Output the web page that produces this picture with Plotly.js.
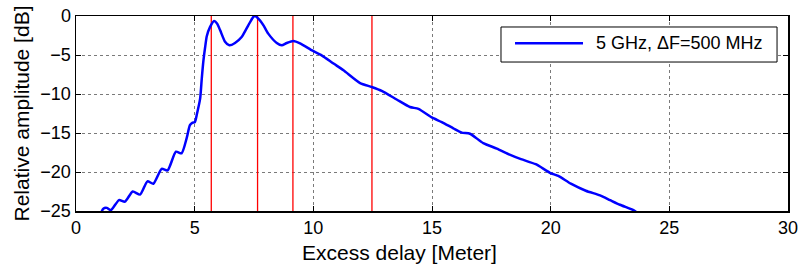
<!DOCTYPE html>
<html>
<head>
<meta charset="utf-8">
<script src="https://cdn.plot.ly/plotly-3.0.1.min.js"></script>
<style>html,body{margin:0;padding:0;background:#fff;}#plot{width:798px;height:269px;}</style>
</head>
<body>
<div id="plot"></div>
<script>
// Excess delay [m]
const delay = [1.05,1.15,1.30,1.47,1.81,2.06,2.39,2.70,3.01,3.26,3.61,3.86,4.21,4.45,4.66,4.80,4.90,5.01,5.10,5.23,5.30,5.37,5.45,5.51,5.65,5.82,5.95,6.07,6.28,6.46,6.70,6.98,7.26,7.45,7.54,7.75,7.90,8.10,8.46,8.67,8.88,9.16,9.44,9.97,10.35,10.85,11.27,11.97,12.46,12.88,13.51,14.07,14.43,14.99,15.41,15.90,16.25,16.60,17.16,17.73,18.22,18.75,19.37,19.97,20.32,20.85,21.48,22.08,22.50,22.92,23.42,23.60];
// Relative amplitude [dB]
const amplitude = [-25.3,-24.7,-24.6,-24.9,-23.6,-23.8,-22.5,-22.9,-21.2,-21.5,-19.6,-19.8,-17.4,-17.6,-15.7,-14.0,-13.7,-13.6,-12.5,-10.6,-8.0,-5.7,-3.8,-2.6,-1.4,-0.64,-1.0,-1.8,-3.3,-3.76,-3.46,-2.7,-1.2,-0.2,0,-0.55,-1.2,-2.26,-3.46,-3.76,-3.46,-3.2,-3.5,-4.45,-5.04,-6.1,-6.96,-8.6,-9.1,-9.6,-10.7,-11.67,-11.9,-13.0,-13.6,-14.4,-14.95,-15.1,-16.3,-17.0,-17.7,-18.35,-19.0,-20.1,-20.5,-21.5,-22.4,-23.0,-23.6,-24.2,-24.8,-25.1];
// vertical markers (path delays)
const markers = [5.7, 7.65, 9.14, 12.47];
const yLimits = [-25, 0];
const xLimits = [0, 30];
const seriesName = '5 GHz, \u0394F=500 MHz';
const xTitle = 'Excess delay [Meter]';
const yTitle = 'Relative amplitude [dB]';

const traces = [];
markers.forEach(m => {
  traces.push({x:[m,m], y:yLimits, mode:'lines', line:{color:'#ff0000', width:1.3}, showlegend:false, hoverinfo:'skip'});
});
traces.push({x:delay, y:amplitude, mode:'lines', name:seriesName, showlegend:false, line:{color:'#0000ff', width:2.5, shape:'spline', smoothing:0.6}});

const FAM = 'Liberation Sans, Arial, sans-serif';
const tickFont = {family:FAM, size:18, color:'#000'};
const titleFont = {family:FAM, size:21, color:'#000'};
const axisCommon = {dtick:5, tick0:0, ticks:'inside', ticklen:5, tickcolor:'#000', showline:true, linecolor:'#000', linewidth:1.5, mirror:'allticks', showgrid:true, gridcolor:'#7a7a7a', griddash:'dot', gridwidth:1, zeroline:false, tickfont:tickFont, ticklabeloverflow:'allow'};
const layout = {
  width:798, height:269,
  margin:{l:76, r:10, t:16, b:58},
  paper_bgcolor:'#fff', plot_bgcolor:'#fff',
  font:tickFont,
  showlegend:false,
  xaxis:Object.assign({}, axisCommon, {range:xLimits}),
  yaxis:Object.assign({}, axisCommon, {range:yLimits, title:{text:yTitle, font:titleFont, standoff:5}}),
  // legend box drawn in paper coordinates
  shapes:[
    {type:'rect', xref:'paper', yref:'paper', x0:0.5969, x1:0.9846, y0:0.764, y1:0.9436, line:{color:'#000', width:1}, fillcolor:'#fff', layer:'above'},
    {type:'line', xref:'paper', yref:'paper', x0:0.6166, x1:0.7121, y0:0.860, y1:0.860, line:{color:'#0000ff', width:2.5}, layer:'above'}
  ],
  annotations:[
    {xref:'paper', yref:'paper', x:0.7275, y:0.860, xanchor:'left', yanchor:'middle', text:seriesName, showarrow:false, font:{family:FAM, size:18, color:'#000'}},
    {xref:'paper', yref:'paper', x:0.455, y:-0.212, xanchor:'center', yanchor:'middle', text:xTitle, showarrow:false, font:titleFont}
  ]
};
Plotly.newPlot('plot', traces, layout, {staticPlot:true, displayModeBar:false});
</script>
</body>
</html>
